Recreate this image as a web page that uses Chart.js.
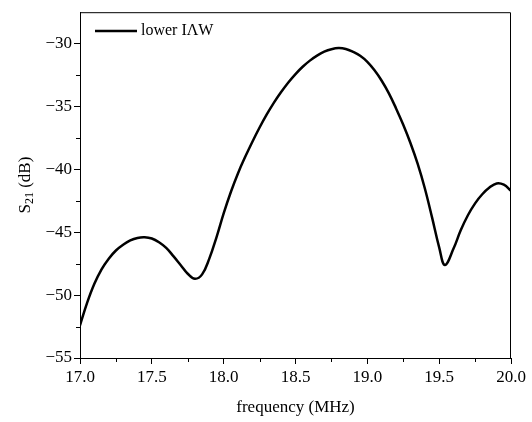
<!doctype html>
<html>
<head>
<meta charset="utf-8" />
<title>S21 lower IAW</title>
<script src="https://cdn.jsdelivr.net/npm/chart.js@4.4.1/dist/chart.umd.min.js"></script>
<style>
  html, body { margin: 0; padding: 0; background: #fff; }
  #wrap { width: 532px; height: 422px; }
</style>
</head>
<body>
<div id="wrap"><canvas id="chart1"></canvas></div>
<script>
// values
var freq = [17.00, 17.05, 17.10, 17.15, 17.20, 17.25, 17.30, 17.35, 17.40, 17.45,
            17.50, 17.55, 17.60, 17.65, 17.70, 17.75, 17.80, 17.85, 17.90, 17.95,
            18.00, 18.05, 18.10, 18.15, 18.20, 18.25, 18.30, 18.35, 18.40, 18.45,
            18.50, 18.55, 18.60, 18.65, 18.70, 18.75, 18.80, 18.85, 18.90, 18.95,
            19.00, 19.05, 19.10, 19.15, 19.20, 19.25, 19.30, 19.35, 19.40, 19.45,
            19.50, 19.54, 19.60, 19.65, 19.70, 19.75, 19.80, 19.85, 19.90, 19.95, 20.00];
var s21 = [-52.4, -50.6, -49.1, -47.95, -47.1, -46.45, -46.0, -45.65, -45.45, -45.4,
           -45.5, -45.8, -46.25, -46.9, -47.6, -48.3, -48.7, -48.35, -47.1, -45.4,
           -43.5, -41.8, -40.3, -39.0, -37.8, -36.67, -35.63, -34.69, -33.85, -33.09,
           -32.42, -31.84, -31.35, -30.95, -30.64, -30.44, -30.35, -30.42, -30.65, -30.97,
           -31.45, -32.12, -32.95, -33.95, -35.15, -36.45, -37.9, -39.55, -41.5, -43.8,
           -46.2, -47.6, -46.3, -44.85, -43.65, -42.7, -41.98, -41.45, -41.12, -41.22, -41.7];
var seriesName = "lower I\u039BW";
var xTicks = [17.0, 17.5, 18.0, 18.5, 19.0, 19.5, 20.0];
var xMinor = [17.25, 17.75, 18.25, 18.75, 19.25, 19.75];
var yTicks = [-55, -50, -45, -40, -35, -30];
var yMinor = [-52.5, -47.5, -42.5, -37.5, -32.5];

var serif = "'Liberation Serif', 'Times New Roman', serif";

var points = freq.map(function (f, i) { return { x: f, y: s21[i] }; });

var decor = {
  id: 'decor',
  afterDraw: function (chart) {
    var ctx = chart.ctx, a = chart.chartArea;
    var sx = chart.scales.x, sy = chart.scales.y;
    ctx.save();
    ctx.strokeStyle = '#000';
    ctx.lineWidth = 1;
    // frame on top and right
    ctx.beginPath();
    ctx.moveTo(a.left, a.top + 0.5);
    ctx.lineTo(a.right - 0.5, a.top + 0.5);
    ctx.lineTo(a.right - 0.5, a.bottom);
    ctx.stroke();
    // minor ticks
    ctx.beginPath();
    xMinor.forEach(function (v) {
      var px = Math.round(sx.getPixelForValue(v)) + 0.5;
      ctx.moveTo(px, a.bottom); ctx.lineTo(px, a.bottom + 4);
    });
    yMinor.forEach(function (v) {
      var py = Math.round(sy.getPixelForValue(v)) + 0.5;
      ctx.moveTo(a.left, py); ctx.lineTo(a.left - 4, py);
    });
    ctx.stroke();

    // y axis title with subscript
    ctx.fillStyle = '#000';
    ctx.textBaseline = 'middle';
    ctx.translate(26, (a.top + a.bottom) / 2);
    ctx.rotate(-Math.PI / 2);
    ctx.font = '17px ' + serif;
    var w1 = ctx.measureText('S').width;
    var w3 = ctx.measureText(' (dB)').width;
    ctx.font = '12px ' + serif;
    var w2 = ctx.measureText('21').width;
    var x0 = -(w1 + w2 + w3) / 2;
    ctx.font = '17px ' + serif;
    ctx.fillText('S', x0, 0);
    ctx.font = '12px ' + serif;
    ctx.fillText('21', x0 + w1, 4);
    ctx.font = '17px ' + serif;
    ctx.fillText(' (dB)', x0 + w1 + w2, 0);
    ctx.restore();

    // legend inside plot
    ctx.save();
    ctx.strokeStyle = '#000';
    ctx.lineWidth = 2.5;
    ctx.beginPath();
    ctx.moveTo(95, 31); ctx.lineTo(137, 31);
    ctx.stroke();
    ctx.fillStyle = '#000';
    ctx.font = '16px ' + serif;
    ctx.textBaseline = 'middle';
    ctx.fillText(chart.data.datasets[0].label, 141, 31);
    ctx.restore();
  }
};

var chart1 = new Chart('chart1', {
  type: 'scatter',
  data: {
    datasets: [{
      label: seriesName,
      data: points,
      showLine: true,
      borderColor: '#000',
      borderWidth: 2.5,
      pointRadius: 0,
      tension: 0.4
    }]
  },
  options: {
    responsive: true,
    maintainAspectRatio: false,
    animation: false,
    layout: { padding: { left: 0, right: 21, top: 10, bottom: 0 } },
    plugins: { legend: { display: false }, tooltip: { enabled: false } },
    scales: {
      x: {
        type: 'linear',
        min: 17, max: 20,
        afterBuildTicks: function (s) { s.ticks = xTicks.map(function (v) { return { value: v }; }); },
        afterFit: function (s) { s.height = 64; },
        grid: { display: true, drawOnChartArea: false, tickLength: 6, color: '#000' },
        border: { display: true, color: '#000', width: 1 },
        ticks: {
          color: '#000', padding: 3, maxRotation: 0,
          font: { family: serif, size: 17 },
          callback: function (v) { return v.toFixed(1); }
        },
        title: {
          display: true, text: 'frequency (MHz)', color: '#000',
          font: { family: serif, size: 17 }, padding: { top: 0, bottom: 4 }
        }
      },
      y: {
        type: 'linear',
        min: -55, max: -27.5,
        afterBuildTicks: function (s) { s.ticks = yTicks.map(function (v) { return { value: v }; }); },
        afterFit: function (s) { s.width = 80; },
        grid: { display: true, drawOnChartArea: false, tickLength: 6, color: '#000' },
        border: { display: true, color: '#000', width: 1 },
        ticks: {
          color: '#000', padding: 2,
          font: { family: serif, size: 17 },
          callback: function (v) { return String(v).replace('-', '\u2212'); }
        }
      }
    }
  },
  plugins: [decor]
});
</script>
</body>
</html>
